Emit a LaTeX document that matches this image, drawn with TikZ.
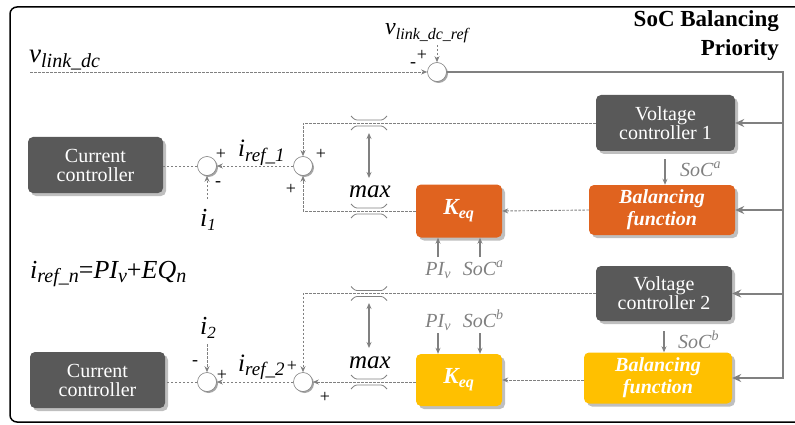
\documentclass[tikz,border=0pt]{standalone}
\usepackage{fontspec}
\setmainfont{Liberation Serif}[BoldFont={Liberation Serif Bold}, ItalicFont={Liberation Serif Italic}, BoldItalicFont={Liberation Serif Bold Italic}]
\usetikzlibrary{arrows.meta,shadows,calc}
\definecolor{dgray}{HTML}{595959}
\definecolor{lgray}{HTML}{808080}
\definecolor{orng}{HTML}{E0631F}
\definecolor{yell}{HTML}{FFC000}
% italic variable with subscript: base, sub, base size, sub size
\newcommand{\mv}[4]{\textit{\fontsize{#3}{#3}\selectfont #1\fontsize{#4}{#4}\selectfont\raisebox{\dimexpr -#3pt*18/100\relax}{#2}}}
\newcommand{\msp}[4]{\textit{\fontsize{#3}{#3}\selectfont #1\fontsize{#4}{#4}\selectfont\raisebox{\dimexpr #3pt*36/100\relax}{#2}}}
\begin{document}
\begin{tikzpicture}[x=1pt,y=-1pt,
  blk/.style={rounded corners=5pt, text=white, font=\fontsize{20}{21}\selectfont, align=center, inner sep=0pt,
     drop shadow={shadow xshift=3pt, shadow yshift=-3pt, fill=black!25, opacity=1}},
  dkbox/.style={blk, fill=dgray},
  orbox/.style={blk, fill=orng},
  yebox/.style={blk, fill=yell},
  sumj/.style={circle, draw=lgray, fill=white, minimum size=19pt, inner sep=0pt, line width=0.6pt,
     drop shadow={shadow xshift=1.5pt, shadow yshift=-1.5pt, fill=black!35, opacity=1}},
  dline/.style={lgray, line width=0.9pt, dash pattern=on 2.5pt off 1.5pt},
  sline/.style={lgray, line width=2pt},
  tip/.style={-{Stealth[length=6pt,width=5pt]}},
  btip/.style={-{Stealth[length=9pt,width=8pt]}},
  lbl/.style={inner sep=0pt},
  glbl/.style={text=lgray, inner sep=0pt},
  pm/.style={font=\fontsize{18}{18}\selectfont, inner sep=0pt},
  maxsym/.pic={
    \draw[lgray, line width=0.8pt] (-18,-7) .. controls (-14,-3) .. (-10,-3) -- (10,-3) .. controls (14,-3) .. (18,-7);
    \draw[lgray, line width=0.8pt] (-18,7) .. controls (-14,3) .. (-10,3) -- (10,3) .. controls (14,3) .. (18,7);
  }
]
\useasboundingbox (0,0) rectangle (795,425);
\draw[line width=1.5pt, rounded corners=7pt] (10,7) rectangle (815,422);

% title
\node[anchor=north east, align=right, inner sep=0pt, font=\fontsize{23}{29}\selectfont\bfseries] (title) at (779,10) {SoC Balancing\\Priority};

% top summing junction
\node[sumj] (s0) at (437,72) {};
\node[lbl, anchor=base west] (vdc) at (29,63) {\mv{v}{link\_dc}{27}{20}};
\coordinate (vdcs) at (30,72);
\node[lbl, anchor=base west] (vref) at (385,35) {\mv{v}{link\_dc\_ref}{24}{16}};
\coordinate (vrefs) at (437,45);
\node[pm] (p0) at (422,55) {+};
\node[pm] (m0) at (413,65) {-};
\draw[dline,tip] (vdcs) -- (s0.west);
\draw[dline,tip] (vrefs) -- (s0.north);

% boxes
\node[dkbox, minimum width=139pt, minimum height=56pt] (VC1) at (665.5,123) {Voltage\\[-2pt]controller 1};
\node[orbox, minimum width=146pt, minimum height=50pt, font=\fontsize{20}{21}\selectfont\bfseries\itshape] (BF1) at (662,210) {Balancing\\[1pt]function};
\node[orbox, minimum width=86pt, minimum height=53pt, font=\fontsize{23}{24}\selectfont\bfseries\itshape] (K1) at (459,211) {K\textsubscript{eq}};
\node[dkbox, minimum width=135pt, minimum height=56pt] (CC1) at (95.5,165) {Current\\[-2pt]controller};

\node[dkbox, minimum width=136pt, minimum height=55pt] (VC2) at (664,293.5) {Voltage\\[-2pt]controller 2};
\node[yebox, minimum width=148pt, minimum height=51pt, font=\fontsize{20}{21}\selectfont\bfseries\itshape] (BF2) at (658,378) {Balancing\\[1pt]function};
\node[yebox, minimum width=86pt, minimum height=52pt, font=\fontsize{23}{24}\selectfont\bfseries\itshape] (K2) at (459,380) {K\textsubscript{eq}};
\node[dkbox, minimum width=135pt, minimum height=56pt] (CC2) at (97.5,380) {Current\\[-2pt]controller};

% bus
\coordinate (R) at (783,72);
\draw[sline,btip] (s0.east) -- (R) |- (BF2.east);
\draw[sline,btip] (R |- VC1.east) -- (VC1.east);
\draw[sline,btip] (R |- BF1.east) -- (BF1.east);
\draw[sline,btip] (R |- VC2.east) -- (VC2.east);

% row 1
\node[sumj] (a1) at (207,166) {};
\node[sumj] (b1) at (303,166) {};
\node[lbl, anchor=base west] (ir1) at (238,157) {\mv{i}{ref\_1}{25}{19}};
\node[lbl, anchor=base] (i1) at (208,226) {\mv{i}{1}{26}{17}};
\coordinate (i1s) at (207,199);
\node[pm] (pa1) at (221,154) {+};
\node[pm] (ma1) at (218,184) {-};
\node[pm] (pb1) at (321,154) {+};
\node[pm] (pb1b) at (291,189) {+};
\draw[dline] (a1.west) -- (a1.west -| CC1.east);
\draw[dline,tip] (b1.west) -- (a1.east);
\draw[dline,tip] (i1s) -- (a1.south);
\draw[dline,tip] (VC1.west) -- (VC1.west -| b1) -- (b1.north);
\draw[dline,tip] (K1.west) -- (K1.west -| b1) -- (b1.south);
\draw[dline,tip] (BF1.west) -- (K1.east);
\pic at (369,123) {maxsym};
\pic at (369,211) {maxsym};
\coordinate (mx1a) at (369,133);
\coordinate (mx1b) at (369,178);
\draw[lgray, line width=1.2pt, {Stealth[length=6pt,width=5pt]}-{Stealth[length=6pt,width=5pt]}] (mx1a) -- (mx1b);
\node[lbl, anchor=base, font=\fontsize{25}{25}\selectfont\itshape] (max1) at (370,197) {max};

% SoC a
\coordinate (sa) at (665,159);
\draw[lgray, line width=1.5pt, tip] (sa) -- (sa |- BF1.north);
\node[glbl, anchor=base west] (soca) at (680,176) {\msp{SoC}{a}{20}{14}};
\coordinate (k1a) at (438,257);
\coordinate (k1b) at (480,257);
\draw[lgray, line width=1.5pt, tip] (k1a) -- (k1a |- K1.south);
\draw[lgray, line width=1.5pt, tip] (k1b) -- (k1b |- K1.south);
\node[glbl, anchor=base] (piv1) at (438,275) {\mv{PI}{v}{20}{14}};
\node[glbl, anchor=base] (soca2) at (483,275) {\msp{SoC}{a}{20}{14}};

% formula
\node[lbl, anchor=base west] (form) at (30,278) {\mv{i}{ref\_n}{26}{20}\fontsize{26}{26}\selectfont=\mv{PI}{v}{26}{20}\fontsize{26}{26}\selectfont+\mv{EQ}{n}{26}{20}};

% row 2
\node[sumj] (a2) at (207,382) {};
\node[sumj] (b2) at (303,382) {};
\node[lbl, anchor=base west] (ir2) at (238,371) {\mv{i}{ref\_2}{25}{19}};
\node[lbl, anchor=base] (i2) at (208,334) {\mv{i}{2}{26}{17}};
\coordinate (i2s) at (207,344);
\node[pm] (ma2) at (195,363) {-};
\node[pm] (pa2) at (222,375) {+};
\node[pm] (pb2) at (292,366) {+};
\node[pm] (pb2b) at (325,397) {+};
\draw[dline] (a2.west) -- (a2.west -| CC2.east);
\draw[dline,tip] (b2.west) -- (a2.east);
\draw[dline,tip] (i2s) -- (a2.north);
\draw[dline,tip] (VC2.west) -- (VC2.west -| b2) -- (b2.north);
\draw[dline,tip] (K2.west |- b2) -- (b2.east);
\draw[dline,tip] (BF2.west |- K2) -- (K2.east);
\pic at (369,293.5) {maxsym};
\pic at (369,382) {maxsym};
\coordinate (mx2a) at (369,303);
\coordinate (mx2b) at (369,348);
\draw[lgray, line width=1.2pt, {Stealth[length=6pt,width=5pt]}-{Stealth[length=6pt,width=5pt]}] (mx2a) -- (mx2b);
\node[lbl, anchor=base, font=\fontsize{25}{25}\selectfont\itshape] (max2) at (370,368) {max};

% SoC b
\coordinate (sb) at (664,331);
\draw[lgray, line width=1.5pt, tip] (sb) -- (sb |- BF2.north);
\node[glbl, anchor=base west] (socb) at (678,348) {\msp{SoC}{b}{20}{14}};
\coordinate (k2a) at (438,333);
\coordinate (k2b) at (480,333);
\draw[lgray, line width=1.5pt, tip] (k2a) -- (k2a |- K2.north);
\draw[lgray, line width=1.5pt, tip] (k2b) -- (k2b |- K2.north);
\node[glbl, anchor=base] (piv2) at (438,327) {\mv{PI}{v}{20}{14}};
\node[glbl, anchor=base] (socb2) at (483,327) {\msp{SoC}{b}{20}{14}};
\end{tikzpicture}
\end{document}
